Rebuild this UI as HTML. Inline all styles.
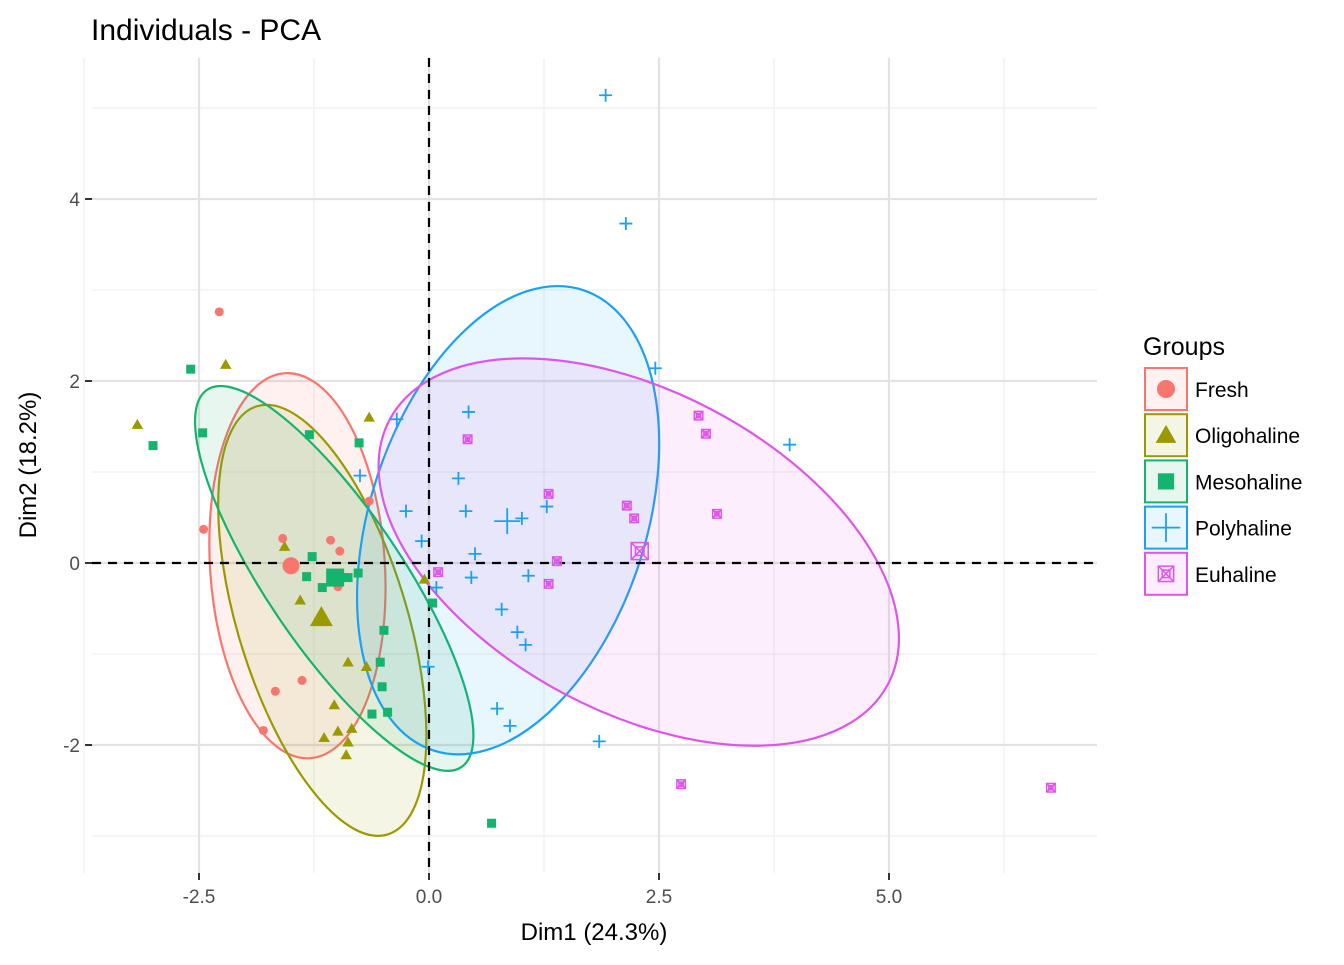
<!DOCTYPE html>
<html><head><meta charset="utf-8"><style>
body{margin:0;background:#fff;font-family:"Liberation Sans",sans-serif}
svg text{font-family:"Liberation Sans",sans-serif}
</style></head><body>
<svg id="c" width="1344" height="960" xmlns="http://www.w3.org/2000/svg">
<text x="91" y="40" font-size="30" fill="#000">Individuals - PCA</text>
<text x="594" y="940" font-size="24" text-anchor="middle" fill="#000">Dim1 (24.3%)</text>
<text transform="translate(36,465) rotate(-90)" font-size="24" text-anchor="middle" fill="#000">Dim2 (18.2%)</text>
<g id="grid"></g>
<g id="ell"></g>
<g id="ref"></g>
<g id="pts"></g>
<g id="axes"></g>
<g id="legend">
<text x="1143" y="355" font-size="25" fill="#000">Groups</text>
</g>
</svg>
<script>
const groups=["Fresh","Oligohaline","Mesohaline","Polyhaline","Euhaline"];
const colors=["#F8766D","#9A9A00","#14B46E","#1AA2F0","#DF55E8"];
const xTicks=[-2.5,0,2.5,5];
const xTickLabels=["-2.5","0.0","2.5","5.0"];
const yTicks=[-2,0,2,4];
const yTickLabels=["-2","0","2","4"];
const freshX=[-2.28,-2.45,-1.59,-1.07,-0.97,-0.99,-1.67,-1.38,-1.80,-0.65];
const freshY=[2.76,0.37,0.27,0.25,0.13,-0.26,-1.41,-1.29,-1.84,0.68];
const oligoX=[-3.17,-2.21,-0.65,-1.57,-1.40,-0.88,-0.68,-1.03,-1.14,-0.99,-0.84,-0.88,-0.90,-0.05];
const oligoY=[1.52,2.18,1.60,0.18,-0.41,-1.09,-1.14,-1.56,-1.92,-1.85,-1.82,-1.97,-2.11,-0.18];
const mesoX=[-2.59,-3.0,-2.46,-1.30,-0.76,-1.27,-1.33,-1.16,-0.88,-0.77,0.04,-0.49,-0.53,-0.51,-0.62,-0.45,0.68];
const mesoY=[2.13,1.29,1.43,1.41,1.32,0.07,-0.15,-0.27,-0.16,-0.11,-0.44,-0.74,-1.09,-1.36,-1.66,-1.64,-2.86];
const polyX=[1.92,2.14,2.46,3.92,-0.35,0.43,0.32,-0.25,0.40,-0.75,1.28,1.01,-0.08,0.50,0.46,1.08,0.08,0.79,0.96,1.05,-0.01,0.74,0.88,1.85];
const polyY=[5.14,3.73,2.14,1.30,1.58,1.66,0.93,0.57,0.57,0.96,0.62,0.49,0.24,0.10,-0.16,-0.14,-0.27,-0.51,-0.76,-0.90,-1.14,-1.60,-1.79,-1.96];
const euX=[0.42,1.30,1.39,1.30,0.10,2.15,2.23,2.93,3.01,3.13,2.74,6.76];
const euY=[1.36,0.76,0.02,-0.23,-0.10,0.63,0.49,1.62,1.42,0.54,-2.43,-2.47];
const centX=[-1.5,-1.17,-1.02,0.85,2.29];
const centY=[-0.03,-0.6,-0.16,0.46,0.13];
const ellCX=[-1.43,-1.16,-1.03,0.86,2.28];
const ellCY=[-0.03,-0.63,-0.17,0.47,0.12];
const ellMajor=[2.12,2.46,2.5,2.66,3.1];
const ellMinor=[0.95,0.92,0.74,1.5,1.74];
const ellAngle=[-3.7,-17,-34,18,-62];

const NS="http://www.w3.org/2000/svg";
const L=92,R=1097,T=58,B=873;
const sx=92,sy=91;
const X=v=>429+v*sx, Y=v=>563-v*sy;
function mk(parent,tag,attrs){const e=document.createElementNS(NS,tag);for(const k in attrs)e.setAttribute(k,attrs[k]);parent.appendChild(e);return e;}
const grid=document.getElementById('grid');
const gridRect=mk(grid,'rect',{x:L,y:T,width:R-L,height:B-T,fill:'#fff'});


const minorX=[-3.75,-1.25,1.25,3.75,6.25], minorY=[-3,-1,1,3,5];
minorX.forEach(v=>{const l=mk(grid,'line',{x1:X(v),x2:X(v),y1:T,y2:B,stroke:'#ebebeb','stroke-width':1});

});
minorY.forEach(v=>{const l=mk(grid,'line',{x1:L,x2:R,y1:Y(v),y2:Y(v),stroke:'#ebebeb','stroke-width':1});

});
xTicks.forEach(v=>{const l=mk(grid,'line',{x1:X(v),x2:X(v),y1:T,y2:B,stroke:'#e3e3e3','stroke-width':2.2});

});
yTicks.forEach(v=>{const l=mk(grid,'line',{x1:L,x2:R,y1:Y(v),y2:Y(v),stroke:'#e3e3e3','stroke-width':2.2});

});
const axes=document.getElementById('axes');
xTicks.forEach((v,i)=>{const l=mk(axes,'line',{x1:X(v),x2:X(v),y1:B,y2:B+7,stroke:'#333','stroke-width':2});


const t=mk(axes,'text',{x:X(v),y:B+30,'font-size':19,'text-anchor':'middle',fill:'#4d4d4d'});t.textContent=xTickLabels[i];

});
yTicks.forEach((v,i)=>{const l=mk(axes,'line',{x1:L-7,x2:L,y1:Y(v),y2:Y(v),stroke:'#333','stroke-width':2});


const t=mk(axes,'text',{x:L-12,y:Y(v)+7,'font-size':19,'text-anchor':'end',fill:'#4d4d4d'});t.textContent=yTickLabels[i];

});
const ell=document.getElementById('ell');
groups.forEach((g,i)=>{const e=mk(ell,'ellipse',{cx:X(ellCX[i]),cy:Y(ellCY[i]),rx:ellMinor[i]*sx,ry:ellMajor[i]*sy,
transform:`rotate(${ellAngle[i]} ${X(ellCX[i])} ${Y(ellCY[i])})`,fill:colors[i],'fill-opacity':0.1,stroke:colors[i],'stroke-width':2.2});

});
const ref=document.getElementById('ref');
const h=mk(ref,'line',{x1:L,x2:R,y1:Y(0),y2:Y(0),stroke:'#000','stroke-width':2.2,'stroke-dasharray':'9,7'});


const vv=mk(ref,'line',{x1:X(0),x2:X(0),y1:T,y2:B,stroke:'#000','stroke-width':2.2,'stroke-dasharray':'9,7'});



function shape(parent,gi,cx,cy,s){
  const c=colors[gi];let e;
  if(gi===0){e=mk(parent,'circle',{cx,cy,r:s,fill:c});}
  else if(gi===1){e=mk(parent,'polygon',{points:`${cx},${cy-s*1.15} ${cx-s*1.15},${cy+s*0.85} ${cx+s*1.15},${cy+s*0.85}`,fill:c});}
  else if(gi===2){e=mk(parent,'rect',{x:cx-s*0.9,y:cy-s*0.9,width:s*1.8,height:s*1.8,fill:c});}
  else if(gi===3){e=mk(parent,'path',{d:`M${cx-s*1.3},${cy}H${cx+s*1.3}M${cx},${cy-s*1.3}V${cy+s*1.3}`,stroke:c,'stroke-width':1.8,fill:'none'});}
  else {const d=s*0.85;e=mk(parent,'path',{d:`M${cx-d},${cy-d}h${2*d}v${2*d}h${-2*d}zM${cx-d},${cy-d}L${cx+d},${cy+d}M${cx+d},${cy-d}L${cx-d},${cy+d}M${cx-d*0.5},${cy-d*0.5}h${d}v${d}h${-d}z`,stroke:c,'stroke-width':1.5,fill:'none'});}
  return e;
}
const pts=document.getElementById('pts');
const allX=[freshX,oligoX,mesoX,polyX,euX], allY=[freshY,oligoY,mesoY,polyY,euY];
allX.forEach((xs,gi)=>{xs.forEach((v,j)=>{const e=shape(pts,gi,X(v),Y(allY[gi][j]),gi===0?4.5:5);

});
const c=shape(pts,gi,X(centX[gi]),Y(centY[gi]),gi===0?8.5:10);

});
const leg=document.getElementById('legend');
groups.forEach((g,i)=>{const y0=368+i*46.2;
const b=mk(leg,'rect',{x:1145,y:y0,width:42,height:42,fill:colors[i],'fill-opacity':0.1,stroke:colors[i],'stroke-width':2});


shape(leg,i,1166,y0+21,i===0?9:i===3?11:9);
const t=mk(leg,'text',{x:1195,y:y0+29,'font-size':21,fill:'#000'});t.textContent=g;

});
</script>
</body></html>
